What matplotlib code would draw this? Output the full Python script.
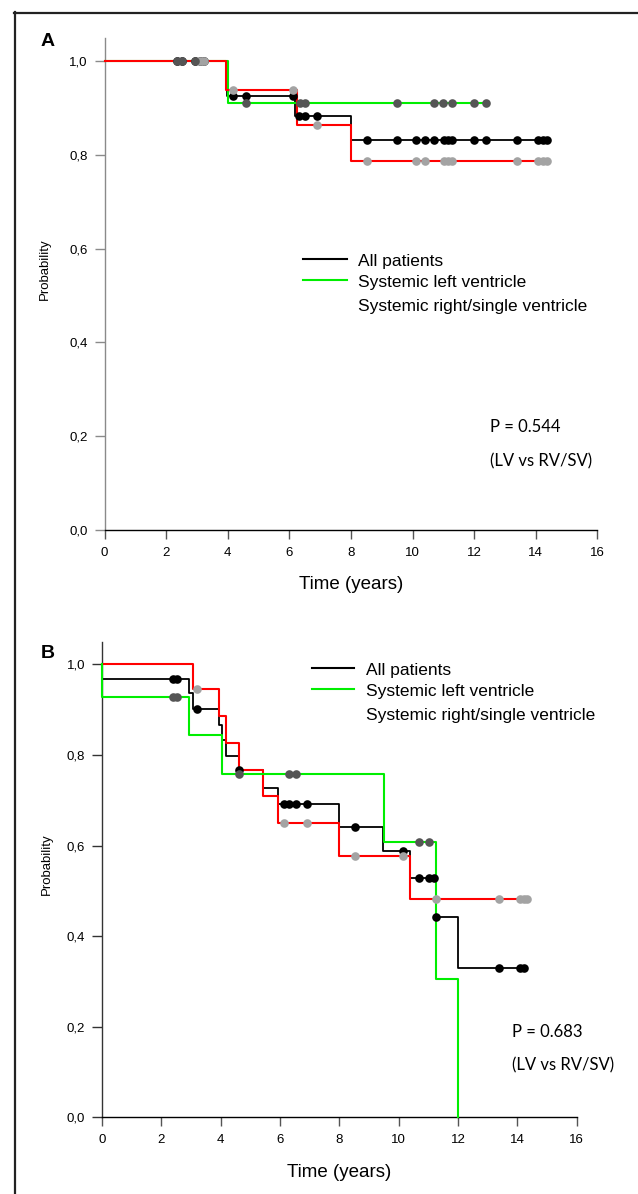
import numpy as np
import matplotlib
matplotlib.use('Agg')
import matplotlib.pyplot as plt
from matplotlib.lines import Line2D

plt.rcParams['font.family'] = ['Liberation Sans', 'DejaVu Sans']

# ---- data ----
year_ticks = np.arange(0, 17, 2)
prob_ticks = [0.0, 0.2, 0.4, 0.6, 0.8, 1.0]
prob_labels = ['0,0', '0,2', '0,4', '0,6', '0,8', '1,0']
legend_labels = ['All patients', 'Systemic left ventricle',
                 'Systemic right/single ventricle']

# panel A
a_all_t = [3.97, 6.19, 7.99]
a_all_s = [0.926, 0.883, 0.833]
a_all_end = 14.38
a_all_cens = [2.36, 2.52, 2.95, 3.1, 3.23, 4.16, 4.58, 6.13, 6.3, 6.51, 6.89,
              8.51, 9.51, 10.11, 10.41, 10.7, 11.02, 11.16, 11.28, 11.99,
              12.38, 13.38, 14.08, 14.23, 14.38]
a_lv_t = [4.02]
a_lv_s = [0.91]
a_lv_end = 12.38
a_lv_cens = [2.36, 2.52, 2.95, 4.58, 6.35, 6.51, 9.51, 10.7, 11.0, 11.27,
             11.99, 12.38]
a_rv_t = [3.95, 6.26, 7.99]
a_rv_s = [0.938, 0.865, 0.787]
a_rv_end = 14.38
a_rv_cens = [3.1, 3.23, 4.16, 6.13, 6.89, 8.51, 10.11, 10.41, 11.02, 11.16,
             11.28, 13.38, 14.08, 14.23, 14.38]
a_pval = 'P = 0.544'

# panel B
b_all_t = [0.0, 2.94, 3.06, 3.95, 4.05, 4.17, 4.61, 5.44, 5.92, 8.0, 9.48,
           10.38, 11.26, 12.01]
b_all_s = [0.967, 0.936, 0.901, 0.866, 0.833, 0.798, 0.767, 0.728, 0.691,
           0.642, 0.588, 0.529, 0.4415, 0.33]
b_all_end = 14.29
b_all_cens = [2.4, 2.52, 3.21, 4.61, 6.14, 6.31, 6.53, 6.9, 8.53, 10.13,
              10.68, 11.02, 11.2, 11.26, 13.38, 14.09, 14.22]
b_lv_t = [0.0, 2.94, 4.05, 9.52, 11.26, 12.01]
b_lv_s = [0.929, 0.844, 0.759, 0.608, 0.305, 0.0]
b_lv_end = 12.01
b_lv_cens = [2.4, 2.52, 4.61, 6.31, 6.53, 10.68, 11.02]
b_rv_t = [3.06, 3.95, 4.17, 4.61, 5.44, 5.92, 8.0, 10.38]
b_rv_s = [0.945, 0.886, 0.827, 0.768, 0.709, 0.65, 0.577, 0.482]
b_rv_end = 14.31
b_rv_cens = [3.21, 6.14, 6.9, 8.53, 10.13, 11.26, 13.38, 14.09, 14.22, 14.31]
b_pval = 'P = 0.683'

W, H = 638, 1194
C_ALL, C_LV, C_RV = 'black', '#00ee00', '#ff0000'
M_ALL, M_LV, M_RV = 'black', '#555555', '#a3a3a3'

fig = plt.figure(figsize=(W / 100, H / 100), dpi=100)


def px_axes(x0, x1, y_bot, y_top):
    return fig.add_axes([x0 / W, 1 - y_bot / H, (x1 - x0) / W, (y_bot - y_top) / H])


def curve(ax, ev_t, surv, end, color, lw, z):
    x = np.concatenate([[0.0], ev_t, [end]])
    y = np.concatenate([[1.0], surv, [surv[-1]]])
    ax.step(x, y, where='post', color=color, lw=lw, zorder=z, clip_on=False)


def censored(ax, ev_t, surv, cens, color, z):
    lev = np.concatenate([[1.0], surv])[np.searchsorted(ev_t, cens, side='right')]
    ax.plot(cens, lev, 'o', color=color, ms=6.2, mec='none', zorder=z,
            clip_on=False)


def style(ax, left_col, ylab_xy, xlab_xy):
    ax.set_xlim(0, 16)
    ax.set_ylim(0, 1.049)
    ax.spines[['top', 'right']].set_visible(False)
    ax.spines['left'].set_color(left_col)
    ax.spines['left'].set_linewidth(1.0)
    ax.spines['bottom'].set_linewidth(1.0)
    ax.set_xticks(year_ticks)
    ax.set_yticks(prob_ticks)
    ax.set_yticklabels(prob_labels)
    ax.tick_params(axis='y', length=7.2, width=1.0, pad=5, labelsize=9.5,
                   color=left_col)
    ax.tick_params(axis='x', length=6.7, width=1.0, pad=5.5, labelsize=9.5,
                   color='#555555')
    ax.set_ylabel('Probability', fontsize=9.5)
    ax.yaxis.set_label_coords(*ylab_xy)
    ax.yaxis.label.set_va('center')
    ax.set_xlabel('Time (years)', fontsize=13.5)
    ax.xaxis.set_label_coords(*xlab_xy)
    ax.xaxis.label.set_va('center')


def legend(x0, x1, xt, line_y, base_y):
    for col, y in zip([C_ALL, C_LV], line_y):
        fig.add_artist(Line2D([x0 / W, x1 / W], [1 - y / H] * 2, color=col,
                              lw=1.5, transform=fig.transFigure))
    for lab, y in zip(legend_labels, base_y):
        fig.text(xt / W, 1 - y / H, lab, fontsize=12.5, va='baseline')


def pvalue(x, y1, y2, txt):
    fig.text(x / W, 1 - y1 / H, txt, fontsize=12, family=['Lato', 'DejaVu Sans'],
             va='center')
    fig.text(x / W, 1 - y2 / H, '(LV vs RV/SV)', fontsize=12,
             family=['Lato', 'DejaVu Sans'], va='center')


# ---- panel A ----
axA = px_axes(104.5, 597.3, 529.8, 38.3)
curve(axA, a_all_t, a_all_s, a_all_end, C_ALL, 1.3, 2)
curve(axA, a_lv_t, a_lv_s, a_lv_end, C_LV, 1.5, 3)
curve(axA, a_rv_t, a_rv_s, a_rv_end, C_RV, 1.5, 4)
censored(axA, a_all_t, a_all_s, a_all_cens, M_ALL, 5)
censored(axA, a_rv_t, a_rv_s, a_rv_cens, M_RV, 6)
censored(axA, a_lv_t, a_lv_s, a_lv_cens, M_LV, 7)
style(axA, '#8a8a8a', (-0.121, 0.53), (0.5, -0.112))
legend(303, 346.7, 358, [259, 280], [265.7, 286.7, 311])
pvalue(490, 426.7, 461.7, a_pval)
fig.text(41 / W, 1 - 41 / H, 'A', fontsize=14, weight='bold', va='center')

# ---- panel B ----
axB = px_axes(102, 576.7, 1117.3, 642.3)
curve(axB, b_all_t, b_all_s, b_all_end, C_ALL, 1.3, 2)
curve(axB, b_rv_t, b_rv_s, b_rv_end, C_RV, 1.5, 3)
curve(axB, b_lv_t, b_lv_s, b_lv_end, C_LV, 1.5, 4)
censored(axB, b_all_t, b_all_s, b_all_cens, M_ALL, 5)
censored(axB, b_rv_t, b_rv_s, b_rv_cens, M_RV, 6)
censored(axB, b_lv_t, b_lv_s, b_lv_cens, M_LV, 7)
style(axB, '#333333', (-0.1165, 0.533), (0.5, -0.116))
legend(311.7, 354.3, 365.7, [668.3, 689.3], [675, 695.7, 720])
pvalue(511.7, 1032.3, 1065, b_pval)
fig.text(41 / W, 1 - 653 / H, 'B', fontsize=14, weight='bold', va='center')

# outer frame (top and left edges)
fig.add_artist(Line2D([14 / W, 1], [1 - 13 / H] * 2, color='#222222', lw=1.6,
                      transform=fig.transFigure))
fig.add_artist(Line2D([15 / W] * 2, [1 - 12 / H, 0], color='#222222', lw=1.6,
                      transform=fig.transFigure))

fig.savefig('out.png', dpi=100)
